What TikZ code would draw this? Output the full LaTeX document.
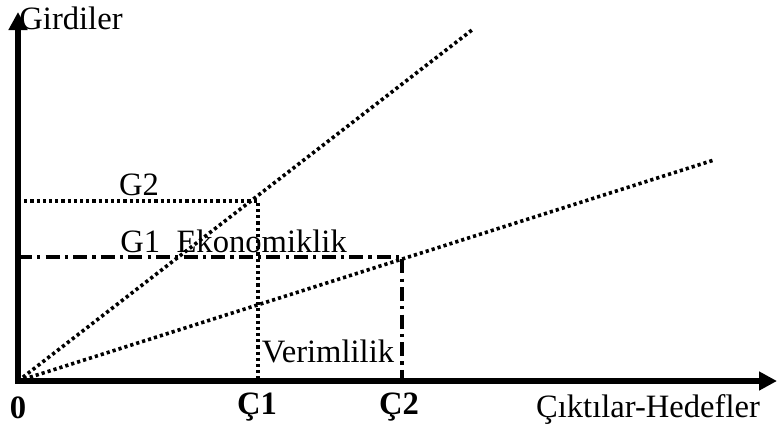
\documentclass[tikz,border=0pt]{standalone}
\usepackage{fontspec}
\setmainfont{Liberation Serif}
\usetikzlibrary{arrows.meta}
\tikzset{
  axis/.style={line width=2.6pt,-{Triangle[length=9pt,width=9pt]}},
  dotline/.style={line width=1.8pt,dash pattern=on 1.6pt off 1.5pt},
  dashdotline/.style={line width=1.7pt,dash pattern=on 7pt off 2.6pt on 1.6pt off 2.6pt},
  lbl/.style={font=\fontsize{16.3}{18}\selectfont,inner sep=0pt}
}
\begin{document}
\begin{tikzpicture}[x=0.5pt,y=-0.5pt]
\useasboundingbox (0,0) rectangle (777,425);
\coordinate (O) at (18,381);
\coordinate (ytop) at (18,12);
\coordinate (xend) at (777,381);
\coordinate (r1) at (472,30);
\coordinate (r2) at (714,160);
\coordinate (g2) at (18,201);
\coordinate (p1) at (258,201);
\coordinate (c1) at (258,381);
\coordinate (g1) at (18,257);
\coordinate (p2) at (402,257);
\coordinate (c2) at (402,381);
% rays
\draw[dotline] (O) -- (r1);
\draw[dotline] (O) -- (r2);
% levels
\draw[dotline] (g2) -- (p1) -- (c1);
\draw[dashdotline] (g1) -- (p2) -- (c2);
% axes
\draw[axis] (O) -- (ytop);
\draw[axis] ([xshift=-1.3pt]O) -- (xend);
% labels
\node[lbl,anchor=west] (girdi) at (19,18) {Girdiler};
\node[lbl] (lg2) at (139,185) {G2};
\node[lbl,anchor=west] (lg1) at (120,241) {G1\ \ Ekonomiklik};
\node[lbl] (verim) at (328,351) {Verimlilik};
\node[lbl,font=\fontsize{16.3}{18}\selectfont\bfseries] (l0) at (18,408) {0};
\node[lbl,font=\fontsize{16.3}{18}\selectfont\bfseries] (lc1) at (257,407) {Ç1};
\node[lbl,font=\fontsize{16.3}{18}\selectfont\bfseries] (lc2) at (399,407) {Ç2};
\node[lbl] (cikti) at (648,409) {Çıktılar-Hedefler};
\end{tikzpicture}
\end{document}
